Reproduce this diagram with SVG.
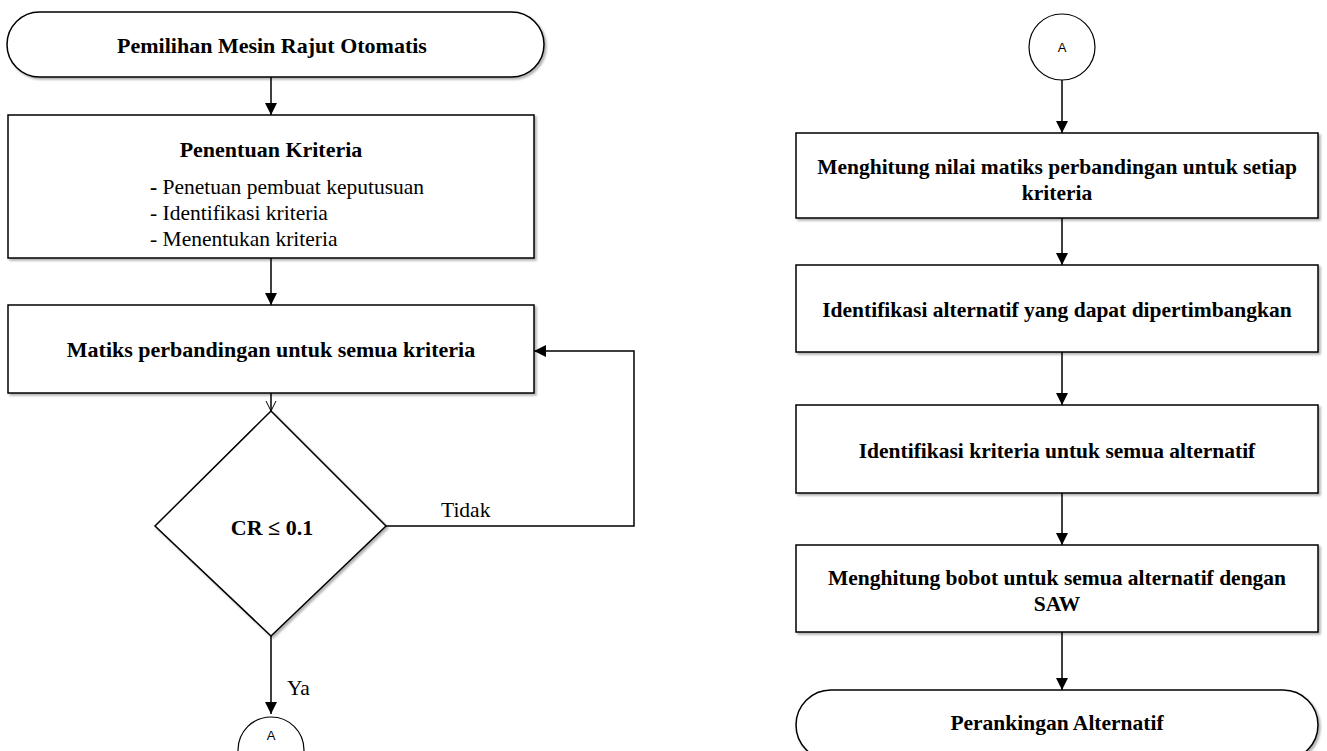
<svg xmlns="http://www.w3.org/2000/svg" width="1327" height="751" viewBox="0 0 1327 751">
<defs>
<filter id="sh" x="-5%" y="-5%" width="110%" height="120%">
<feDropShadow dx="2" dy="2" stdDeviation="1.2" flood-color="#000" flood-opacity="0.3"/>
</filter>
<marker id="ah" markerWidth="12" markerHeight="12" refX="12" refY="6" orient="auto" markerUnits="userSpaceOnUse">
<path d="M0,0 L12,6 L0,12 Z" fill="#000"/>
</marker>
<marker id="ao" markerWidth="12" markerHeight="12" refX="11" refY="6" orient="auto" markerUnits="userSpaceOnUse">
<path d="M1,1 L11,6 L1,11" fill="none" stroke="#000" stroke-width="1"/>
</marker>
</defs>
<style>
.s{fill:#fff;stroke:#000;stroke-width:1.5;filter:url(#sh)}
.c{fill:#fff;stroke:#000;stroke-width:1.2}
.b{font-family:"Liberation Serif","Times New Roman",serif;font-weight:bold;font-size:22px;text-anchor:middle;fill:#000}
.br{font-family:"Liberation Serif","Times New Roman",serif;font-weight:bold;font-size:21.5px;text-anchor:middle;fill:#000}
.r{font-family:"Liberation Serif","Times New Roman",serif;font-size:21.5px;fill:#000}
.a{font-family:"Liberation Sans",Arial,sans-serif;font-size:13px;text-anchor:middle;fill:#000}
.l{fill:none;stroke:#000;stroke-width:1.5}
</style>
<rect width="1327" height="751" fill="#fff"/>

<g id="connectors">
<line class="l" x1="271" y1="77" x2="271" y2="115" marker-end="url(#ah)"/>
<line class="l" x1="271" y1="258" x2="271" y2="305" marker-end="url(#ah)"/>
<line class="l" x1="271" y1="393" x2="271" y2="411" marker-end="url(#ao)"/>
<polyline class="l" points="386,526 634,526 634,351 534,351" marker-end="url(#ah)"/>
<line class="l" x1="271" y1="636" x2="271" y2="714" marker-end="url(#ah)"/>
<text class="r" x="441" y="517">Tidak</text>
<text class="r" x="287" y="695">Ya</text>
<line class="l" x1="1062" y1="80" x2="1062" y2="133" marker-end="url(#ah)"/>
<line class="l" x1="1062" y1="218" x2="1062" y2="265" marker-end="url(#ah)"/>
<line class="l" x1="1062" y1="352" x2="1062" y2="405" marker-end="url(#ah)"/>
<line class="l" x1="1062" y1="493" x2="1062" y2="545" marker-end="url(#ah)"/>
<line class="l" x1="1062" y1="632" x2="1062" y2="690" marker-end="url(#ah)"/>
</g>

<g id="start">
<rect class="s" x="7" y="12" width="537" height="65" rx="32.5" ry="32.5"/>
<text class="b" x="272" y="53">Pemilihan Mesin Rajut Otomatis</text>
</g>

<g id="penentuan">
<rect class="s" x="8" y="115" width="526" height="143"/>
<text class="b" x="271" y="157">Penentuan Kriteria</text>
<text class="r" x="150" y="194"><tspan font-weight="bold">-</tspan> Penetuan pembuat keputusuan</text>
<text class="r" x="150" y="220">- Identifikasi kriteria</text>
<text class="r" x="150" y="246">- Menentukan kriteria</text>
</g>

<g id="matiks">
<rect class="s" x="8" y="305" width="526" height="88"/>
<text class="b" x="271" y="357">Matiks perbandingan untuk semua kriteria</text>
</g>

<g id="cr">
<polygon class="s" points="271,411 386,526 271,636 155,526"/>
<text class="b" x="272" y="535">CR ≤ 0.1</text>
</g>

<g id="a-out">
<ellipse class="c" cx="271" cy="750" rx="33" ry="33"/>
<text class="a" x="271" y="740">A</text>
</g>

<g id="a-in">
<circle class="c" cx="1062" cy="47" r="33"/>
<text class="a" x="1062" y="52">A</text>
</g>

<g id="hitung-matiks">
<rect class="s" x="796" y="133" width="522" height="85"/>
<text class="br" x="1057" y="174">Menghitung nilai matiks perbandingan untuk setiap</text>
<text class="br" x="1057" y="200">kriteria</text>
</g>

<g id="identifikasi-alt">
<rect class="s" x="796" y="265" width="522" height="87"/>
<text class="br" x="1057" y="317">Identifikasi alternatif yang dapat dipertimbangkan</text>
</g>

<g id="identifikasi-krit">
<rect class="s" x="796" y="405" width="522" height="88"/>
<text class="br" x="1057" y="458">Identifikasi kriteria untuk semua alternatif</text>
</g>

<g id="bobot">
<rect class="s" x="796" y="545" width="522" height="87"/>
<text class="br" x="1057" y="585">Menghitung bobot untuk semua alternatif dengan</text>
<text class="br" x="1057" y="611">SAW</text>
</g>

<g id="end">
<rect class="s" x="796" y="690" width="522" height="70" rx="35" ry="35"/>
<text class="br" x="1057" y="730">Perankingan Alternatif</text>
</g>
</svg>
